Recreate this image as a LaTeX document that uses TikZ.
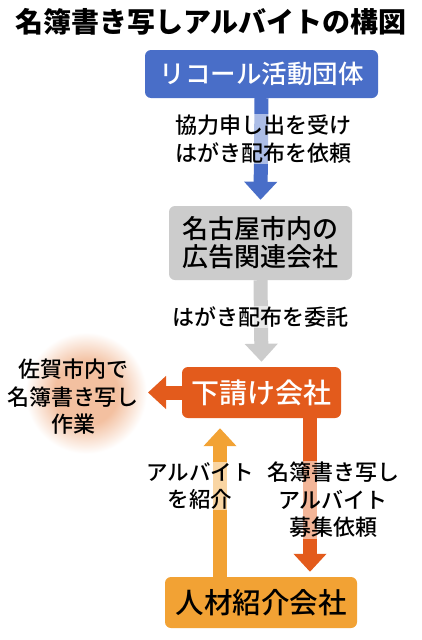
\documentclass[tikz,border=0pt]{standalone}
\usepackage{fontspec}
\setmainfont{Noto Sans CJK JP}
\newfontfamily\boxfont{Noto Sans CJK JP Medium}
\usepackage{tikz}
\usetikzlibrary{arrows.meta,calc}
\definecolor{recallblue}{HTML}{496EC8}
\definecolor{agencygray}{HTML}{CCCCCC}
\definecolor{subred}{HTML}{E35B1C}
\definecolor{talentorange}{HTML}{F2A234}
\definecolor{glowpeach}{HTML}{F3C0A0}
\pgfdeclareradialshading{workglow}{\pgfpoint{0bp}{0bp}}{color(0bp)=(glowpeach); color(12bp)=(glowpeach); color(23bp)=(white); color(50bp)=(white)}
\tikzstyle{box}=[rounded corners=6pt,inner sep=0pt,align=center]
\tikzstyle{fat}=[line width=14pt,-{Triangle[width=32pt,length=18pt]}]
\tikzstyle{note}=[fill=white,fill opacity=0.55,text opacity=1,inner sep=1pt,align=center,font=\boxfont\fontsize{22}{27.5}\selectfont]

\begin{document}
\begin{tikzpicture}[x=1pt,y=-1pt]
	\useasboundingbox[fill=white] (0,0) rectangle (422,640);
	\shade[shading=workglow] (86,393) circle (66);
	\node (title) at (211,22) {\fontsize{28}{30}\selectfont\bfseries 名簿書き写しアルバイトの構図};
	\node[box,fill=recallblue,text=white,minimum width=233pt,minimum height=48pt,font=\boxfont\fontsize{25.5}{28}\selectfont] (recall) at (261.5,74) {リコール活動団体};
	\node[box,fill=agencygray,minimum width=183pt,minimum height=74pt,font=\boxfont\fontsize{26}{28}\selectfont] (agency) at (260.5,243) {名古屋市内の\\広告関連会社};
	\node[box,fill=subred,text=white,minimum width=159pt,minimum height=51pt,font=\boxfont\fontsize{28}{30}\selectfont] (sub) at (261.5,392.5) {下請け会社};
	\node[box,fill=talentorange,minimum width=192pt,minimum height=51pt,font=\boxfont\fontsize{28.5}{30}\selectfont] (talent) at (261,602.5) {人材紹介会社};
	\coordinate (work) at (148,392.5);
	\path[fat,draw=recallblue] (recall.south) -- ([yshift=6pt]agency.north);
	\path[fat,draw=agencygray] (agency.south) -- ([yshift=5pt]sub.north);
	\path[fat,draw=subred] (sub.west) -- (work);
	\path[fat,draw=talentorange] ($(talent.north)+(-41,0)$) -- ($(sub.south)+(-41.5,10)$);
	\path[fat,draw=subred] ($(sub.south)+(48.5,0)$) -- ($(talent.north)+(49,-5)$);
	\node[note] (ask) at (263,139) {協力申し出を受け\\はがき配布を依頼};
	\node[note] (entrust) at (260,317) {はがき配布を委託};
	\node[align=center,font=\boxfont\fontsize{22}{27.5}\selectfont] (worktext) at (73,397) {佐賀市内で\\名簿書き写し\\作業};
	\node[note,font=\boxfont\fontsize{21.5}{27}\selectfont] (introduce) at (200,486) {アルバイト\\を紹介};
	\node[note] (recruit) at (333,500) {名簿書き写し\\アルバイト\\募集依頼};
\end{tikzpicture}
\end{document}
